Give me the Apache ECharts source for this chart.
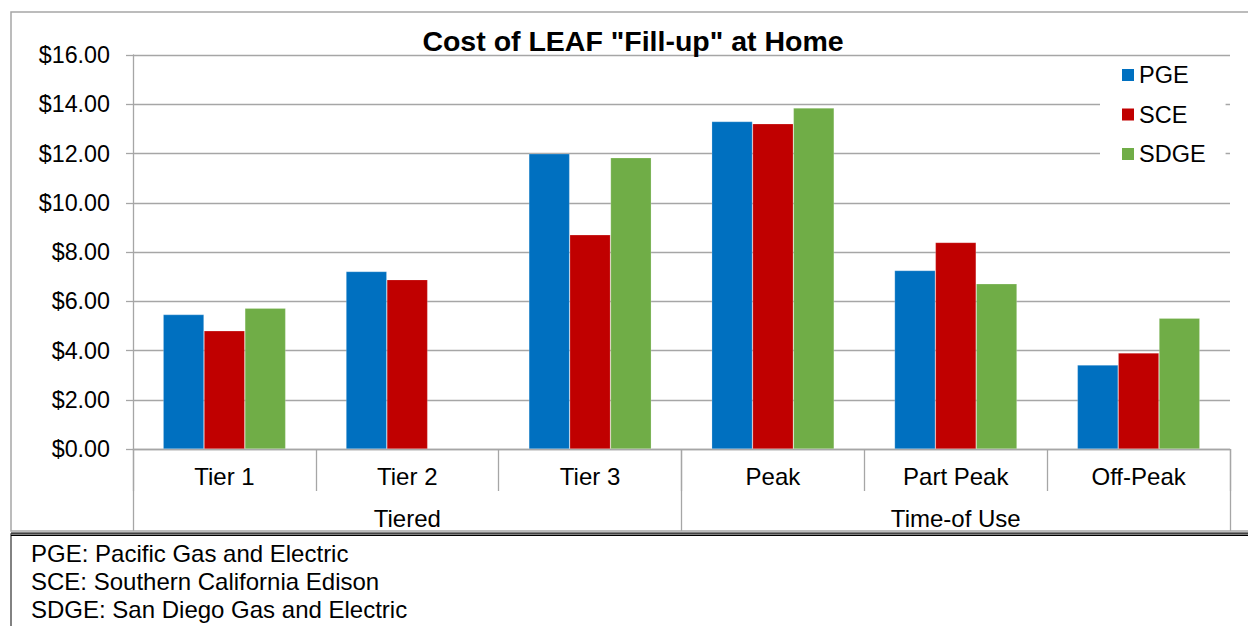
<!DOCTYPE html>
<html>
<head>
<meta charset="utf-8">
<script src="https://cdn.jsdelivr.net/npm/echarts@6/dist/echarts.min.js"></script>
<style>
html,body{margin:0;padding:0;background:#fff;}
#chart{width:1248px;height:626px;}
</style>
</head>
<body>
<div id="chart"></div>
<script>
const titleText = 'Cost of LEAF "Fill-up" at Home';
const categories = ['Tier 1', 'Tier 2', 'Tier 3', 'Peak', 'Part Peak', 'Off-Peak'];
const groups = ['Tiered', 'Time-of Use'];
const seriesNames = ['PGE', 'SCE', 'SDGE'];
const pge = [5.46, 7.21, 11.99, 13.30, 7.25, 3.41];
const sce = [4.80, 6.88, 8.70, 13.21, 8.39, 3.90];
const sdge = [5.72, null, 11.83, 13.85, 6.71, 5.31];
const footnotes = ['PGE: Pacific Gas and Electric', 'SCE: Southern California Edison', 'SDGE: San Diego Gas and Electric'];
const colors = ['#0070C0', '#C00000', '#70AD47'];
const yMin = 0, yMax = 16, yStep = 2;

const font = '"Liberation Sans", Arial, sans-serif';
const gray = '#A6A6A6';

const chart = echarts.init(document.getElementById('chart'), null, {renderer: 'svg'});
const seriesData = [pge, sce, sdge];

const option = {
  animation: false,
  backgroundColor: '#fff',
  color: colors,
  title: {
    text: titleText,
    left: 628, top: 21, textAlign: 'center',
    textStyle: {fontFamily: font, fontSize: 28.5, fontWeight: 'bold', color: '#000'}
  },
  legend: {
    data: seriesNames,
    orient: 'vertical',
    left: 1100, top: 57,
    padding: [6, 20, 8, 22],
    backgroundColor: '#fff',
    itemWidth: 12, itemHeight: 12, itemGap: 15.5, icon: 'rect',
    itemStyle: {borderWidth: 0},
    textStyle: {fontFamily: font, fontSize: 23.5, color: '#000', lineHeight: 23}
  },
  grid: {left: 133, right: 18, top: 55, bottom: 177, containLabel: false},
  xAxis: [
    {
      type: 'category', data: categories, position: 'bottom',
      axisLine: {show: true, lineStyle: {color: gray, width: 1.3}},
      axisTick: {show: true, interval: 0, length: 42, lineStyle: {color: gray, width: 1.3}},
      axisLabel: {interval: 0, margin: 15, fontFamily: font, fontSize: 24, color: '#000'}
    },
    {
      type: 'category', data: groups, position: 'bottom',
      axisLine: {show: false},
      axisTick: {show: true, interval: 0, length: 82, lineStyle: {color: gray, width: 1.3}},
      axisLabel: {interval: 0, margin: 57, fontFamily: font, fontSize: 24, color: '#000'}
    }
  ],
  yAxis: {
    type: 'value', min: yMin, max: yMax, interval: yStep,
    axisLine: {show: true, lineStyle: {color: gray, width: 1.3}},
    axisTick: {show: true, length: 7, lineStyle: {color: gray, width: 1.3}},
    splitLine: {show: true, lineStyle: {color: gray, width: 1.3}},
    axisLabel: {margin: 23, fontFamily: font, fontSize: 23.3, color: '#000',
      formatter: v => '$' + v.toFixed(2)}
  },
  series: seriesNames.map((n, i) => ({
    name: n, type: 'bar', xAxisIndex: 0,
    data: seriesData[i],
    barGap: '0%', barCategoryGap: '33%',
    itemStyle: {color: colors[i], borderColor: 'rgba(255,255,255,0.35)', borderWidth: 0.6}
  })),
  graphic: [
    {type: 'rect', shape: {x: 11, y: 12, width: 1300, height: 519}, style: {fill: 'none', stroke: gray, lineWidth: 1.5}, z: -1, silent: true},
    {type: 'rect', shape: {x: 11, y: 534, width: 1300, height: 200}, style: {fill: '#fff', stroke: '#595959', lineWidth: 1.5}, z: 10, silent: true},
    {type: 'line', shape: {x1: 11, y1: 533, x2: 1248, y2: 533}, style: {stroke: '#000', lineWidth: 1}, z: 11, silent: true},
    {type: 'line', shape: {x1: 11, y1: 535.5, x2: 1248, y2: 535.5}, style: {stroke: '#000', lineWidth: 1}, z: 11, silent: true}
  ].concat(footnotes.map((t, i) => ({
    type: 'text', left: 31, top: 541 + i * 28, z: 12, silent: true,
    style: {text: t, fontFamily: font, fontSize: 24, fill: '#000'}
  })))
};
chart.setOption(option);
</script>
</body>
</html>
